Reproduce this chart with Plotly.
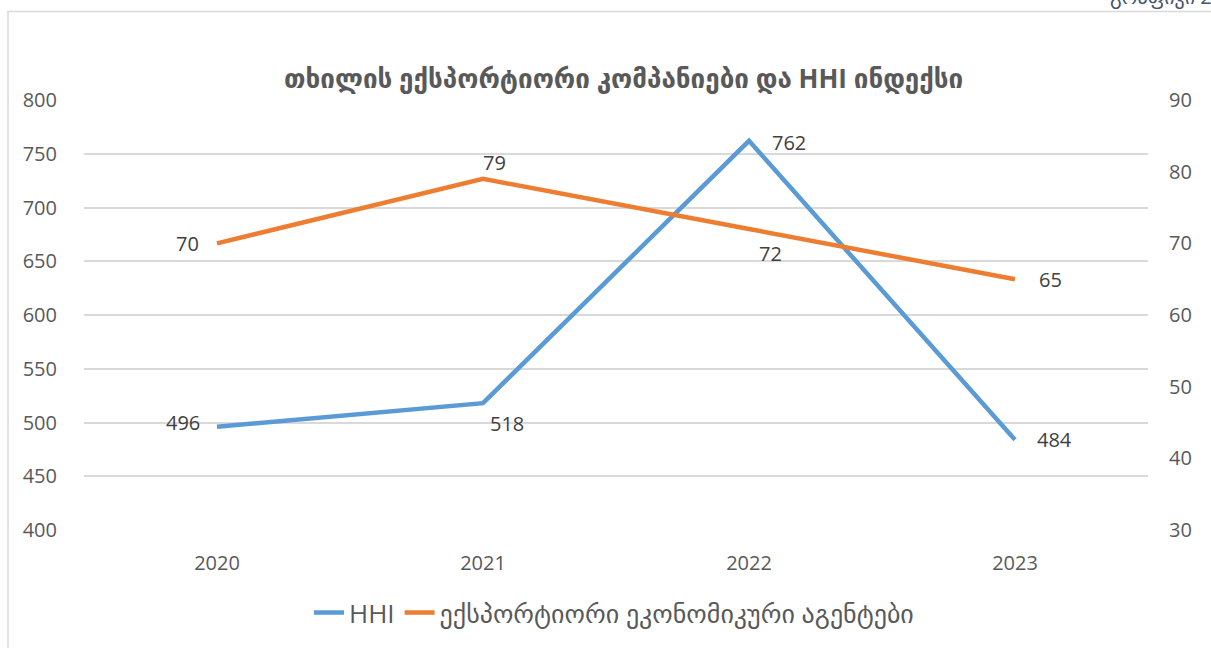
import plotly.graph_objects as go

years = ["2020", "2021", "2022", "2023"]
hhi = [496, 518, 762, 484]
agents = [70, 79, 72, 65]
hhi_label_shift = [(-34, 4), (24, -20), (40, -2), (39, 0)]
agents_label_shift = [(-30, 0), (11, 16), (21, -24), (35, 0)]

title_text = "თხილის ექსპორტიორი კომპანიები და HHI ინდექსი"
corner_text = "გრაფიკი 2"
name_hhi = "HHI"
name_agents = "ექსპორტიორი ეკონომიკური აგენტები"

FONT = "Open Sans, DejaVu Sans, sans-serif"
GRAY = "#595959"
BLUE = "#5B9BD5"
ORANGE = "#ED7D31"

fig = go.Figure()
fig.add_trace(go.Scatter(x=years, y=hhi, mode="lines", name=name_hhi,
                         line=dict(color=BLUE, width=4.5), yaxis="y"))
fig.add_trace(go.Scatter(x=years, y=agents, mode="lines", name=name_agents,
                         line=dict(color=ORANGE, width=4.5), yaxis="y2"))

annotations = []
for i, (v, (dx, dy)) in enumerate(zip(hhi, hhi_label_shift)):
    annotations.append(dict(x=i, y=v, xref="x", yref="y", text=str(v), showarrow=False,
                            xshift=dx, yshift=dy, font=dict(family=FONT, size=20, color="#404040")))
for i, (v, (dx, dy)) in enumerate(zip(agents, agents_label_shift)):
    annotations.append(dict(x=i, y=v, xref="x", yref="y2", text=str(v), showarrow=False,
                            xshift=dx, yshift=dy, font=dict(family=FONT, size=20, color="#404040")))
annotations.append(dict(x=(623 - 84) / 1064, y=(532 - 58) / 432, xref="paper", yref="paper",
                        text="<b>" + title_text + "</b>", showarrow=False,
                        font=dict(family=FONT, size=26, color=GRAY)))
annotations.append(dict(x=(1214 - 84) / 1064, y=(532 - 12) / 432, xref="paper", yref="paper",
                        text=corner_text, showarrow=False, xanchor="right", yanchor="bottom",
                        font=dict(family=FONT, size=20, color="#44546A")))

fig.update_layout(
    width=1211, height=648,
    margin=dict(l=84, r=63, t=100, b=116),
    paper_bgcolor="white", plot_bgcolor="white",
    font=dict(family=FONT, size=20, color=GRAY),
    showlegend=True,
    legend=dict(orientation="h", x=(614 - 84) / 1064, xanchor="center", y=(532 - 615) / 432,
                yanchor="middle", font=dict(family=FONT, size=26, color=GRAY)),
    xaxis=dict(type="category", range=[-0.5, 3.5], showgrid=False, showline=False,
               ticks="outside", ticklen=15, tickcolor="rgba(0,0,0,0)",
               tickfont=dict(family=FONT, size=20, color=GRAY)),
    yaxis=dict(range=[400, 800], dtick=50, showgrid=True, gridcolor="#D9D9D9", gridwidth=1.5,
               zeroline=False, showline=False, ticks="outside", ticklen=22,
               tickcolor="rgba(0,0,0,0)", tickfont=dict(family=FONT, size=20, color=GRAY)),
    yaxis2=dict(range=[30, 90], dtick=10, overlaying="y", side="right", showgrid=False,
                zeroline=False, showline=False, ticks="outside", ticklen=16,
                tickcolor="rgba(0,0,0,0)", tickfont=dict(family=FONT, size=20, color=GRAY)),
    annotations=annotations,
    shapes=[dict(type="rect", xref="paper", yref="paper",
                 x0=(8 - 84) / 1064, x1=(1260 - 84) / 1064,
                 y0=(532 - 700) / 432, y1=(532 - 11) / 432,
                 line=dict(color="#D9D9D9", width=1.5), layer="below")],
)

fig.write_html("out.html", config={"displayModeBar": False},
               post_script="document.body.style.margin='0';")
